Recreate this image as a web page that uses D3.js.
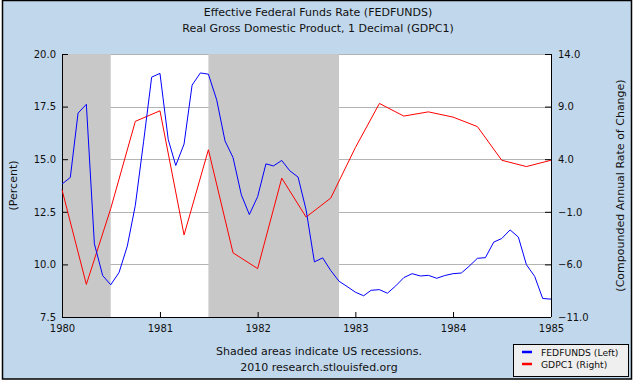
<!DOCTYPE html>
<html>
<head>
<meta charset="utf-8">
<script src="https://cdn.jsdelivr.net/npm/d3@7"></script>
<style>
  html, body { margin: 0; padding: 0; background: #ffffff; }
  svg { display: block; }
  text { font-family: "DejaVu Sans", Verdana, sans-serif; fill: #111; }
</style>
</head>
<body>
<script>
// ---- Data ----
const titleLines = ["Effective Federal Funds Rate (FEDFUNDS)", "Real Gross Domestic Product, 1 Decimal (GDPC1)"];
const footLines = ["Shaded areas indicate US recessions.", "2010 research.stlouisfed.org"];

// FEDFUNDS monthly, Jan 1980 .. Jan 1985
const fedStart = "1980-01-01";
const fedfunds = [
  13.82, 14.13, 17.19, 17.61, 10.98, 9.47, 9.03, 9.61, 10.87, 12.81, 15.85, 18.90,
  19.08, 15.93, 14.70, 15.72, 18.52, 19.10, 19.04, 17.82, 15.87, 15.08, 13.31, 12.37,
  13.22, 14.78, 14.68, 14.94, 14.45, 14.15, 12.59, 10.12, 10.31, 9.71, 9.20, 8.95,
  8.68, 8.51, 8.77, 8.80, 8.63, 8.98, 9.37, 9.56, 9.45, 9.48, 9.34, 9.47,
  9.56, 9.59, 9.91, 10.29, 10.32, 11.06, 11.23, 11.64, 11.30, 9.99, 9.43, 8.38,
  8.35
];
// GDPC1 quarterly compounded annual rate of change, 1980Q1 .. 1985Q1
const gdpStart = "1980-01-01";
const gdpc1 = [
  1.1, -7.9, -0.7, 7.6,
  8.6, -3.2, 4.9, -4.9,
  -6.4, 2.2, -1.5, 0.3,
  5.1, 9.3, 8.1, 8.5,
  8.0, 7.1, 3.9, 3.3,
  3.9
];
const recessions = [["1980-01-01", "1980-07-01"], ["1981-07-01", "1982-11-01"]];
const xDomain = ["1980-01-01", "1985-01-01"];
const leftTicks = [7.5, 10, 12.5, 15, 17.5, 20];
const rightTicks = [-11, -6, -1, 4, 9, 14];
const yearTicks = ["1980-01-01", "1981-01-01", "1982-01-01", "1983-01-01", "1984-01-01", "1985-01-01"];
const legendItems = [["FEDFUNDS (Left)", "#0000ff"], ["GDPC1 (Right)", "#ff0000"]];

// ---- Drawing ----
const W = 634, H = 382;
const P = { left: 62, right: 551, top: 54, bottom: 317 };
const parse = d3.utcParse("%Y-%m-%d");

const svg = d3.select("body").append("svg").attr("width", W).attr("height", H);

svg.append("rect").attr("x", 2.5).attr("y", 0.5).attr("width", 629).attr("height", 378.5)
  .attr("fill", "#c1d7eb").attr("stroke", "#000").attr("stroke-width", 1.5);

const x = d3.scaleUtc().domain(xDomain.map(parse)).range([P.left, P.right]);
const yL = d3.scaleLinear().domain([7.5, 20]).range([P.bottom, P.top]);
const yR = d3.scaleLinear().domain([-11, 14]).range([P.bottom, P.top]);

// plot background
svg.append("rect").attr("x", P.left).attr("y", P.top)
  .attr("width", P.right - P.left).attr("height", P.bottom - P.top).attr("fill", "#ffffff");

// gridlines
svg.append("g").selectAll("line").data(leftTicks.slice(1)).join("line")
  .attr("x1", P.left).attr("x2", P.right)
  .attr("y1", d => Math.round(yL(d)) + 0.5).attr("y2", d => Math.round(yL(d)) + 0.5)
  .attr("stroke", "#b4b4b4").attr("stroke-width", 1);

// recession shading
svg.append("g").selectAll("rect").data(recessions).join("rect")
  .attr("x", d => x(parse(d[0])))
  .attr("width", d => x(parse(d[1])) - x(parse(d[0])))
  .attr("y", P.top).attr("height", P.bottom - P.top)
  .attr("fill", "#c8c8c8");

// axes
const fmt = d3.format(".1f");
const gL = svg.append("g").attr("transform", `translate(${P.left},0)`)
  .call(d3.axisLeft(yL).tickValues(leftTicks).tickFormat(fmt).tickSize(-6).tickPadding(6));
const gR = svg.append("g").attr("transform", `translate(${P.right},0)`)
  .call(d3.axisRight(yR).tickValues(rightTicks).tickFormat(fmt).tickSize(-6).tickPadding(7));
const gB = svg.append("g").attr("transform", `translate(0,${P.bottom})`)
  .call(d3.axisBottom(x).tickValues(yearTicks.map(parse)).tickFormat(d3.utcFormat("%Y")).tickSize(-5).tickPadding(8));
[gL, gR, gB].forEach(g => {
  g.selectAll("text").attr("font-size", 10).attr("font-family", '"DejaVu Sans", Verdana, sans-serif').attr("fill", "#111");
  g.selectAll("line,path").attr("stroke", "#000");
});
gB.select(".domain").attr("d", `M${P.left},0.5H${P.right}`);
gL.select(".domain").attr("d", `M0.5,${P.top}V${P.bottom}`);
gR.select(".domain").attr("d", `M0.5,${P.top}V${P.bottom}`);

// lines
const fedData = fedfunds.map((v, i) => ({ d: d3.utcMonth.offset(parse(fedStart), i), v }));
const gdpData = gdpc1.map((v, i) => ({ d: d3.utcMonth.offset(parse(gdpStart), i * 3), v }));

svg.append("path").datum(gdpData)
  .attr("fill", "none").attr("stroke", "#ff0000").attr("stroke-width", 1)
  .attr("d", d3.line().x(p => x(p.d)).y(p => yR(p.v)));
svg.append("path").datum(fedData)
  .attr("fill", "none").attr("stroke", "#0000ff").attr("stroke-width", 1)
  .attr("d", d3.line().x(p => x(p.d)).y(p => yL(p.v)));

// titles
svg.append("g").selectAll("text").data(titleLines).join("text")
  .attr("x", 318).attr("y", (d, i) => 16 + i * 16)
  .attr("text-anchor", "middle").attr("font-size", 11).text(d => d);

// axis titles
svg.append("text").attr("transform", `translate(17,${(P.top + P.bottom) / 2}) rotate(-90)`)
  .attr("text-anchor", "middle").attr("font-size", 11).text("(Percent)");
svg.append("text").attr("transform", `translate(624,${(P.top + P.bottom) / 2}) rotate(-90)`)
  .attr("text-anchor", "middle").attr("font-size", 11).text("(Compounded Annual Rate of Change)");

// footnote
svg.append("g").selectAll("text").data(footLines).join("text")
  .attr("x", 319).attr("y", (d, i) => 355 + i * 16)
  .attr("text-anchor", "middle").attr("font-size", 11).text(d => d);

// legend
const lg = svg.append("g");
lg.append("rect").attr("x", 513.5).attr("y", 344.5).attr("width", 115).attr("height", 32)
  .attr("fill", "#efefef").attr("stroke", "#000").attr("stroke-width", 1);
const li = lg.selectAll("g").data(legendItems).join("g")
  .attr("transform", (d, i) => `translate(0,${352 + i * 12})`);
li.append("line").attr("x1", 522).attr("x2", 532).attr("y1", 0).attr("y2", 0)
  .attr("stroke", d => d[1]).attr("stroke-width", 2.5);
li.append("text").attr("x", 541).attr("y", 3.5).attr("font-size", 9.2).text(d => d[0]);
</script>
</body>
</html>
